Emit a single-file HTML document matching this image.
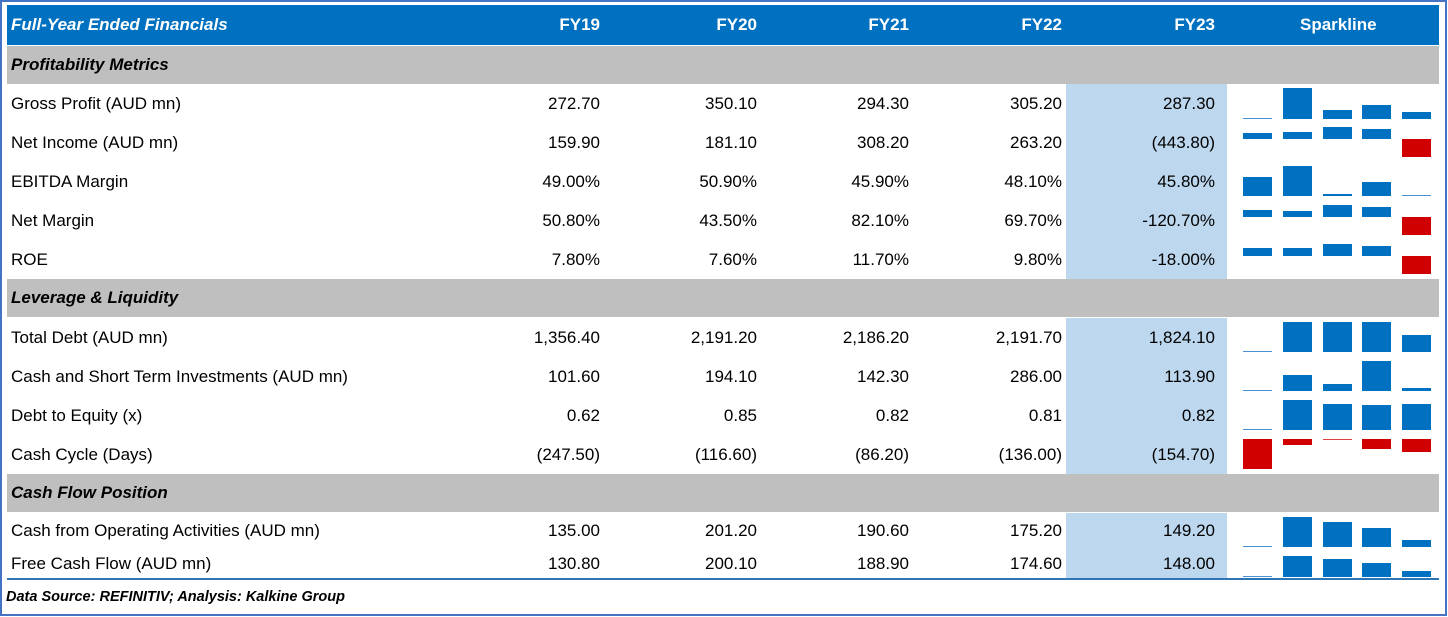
<!DOCTYPE html>
<html><head><meta charset="utf-8">
<style>
body{margin:0;width:1448px;height:617px;background:#fff;position:relative;overflow:hidden;font-family:"Liberation Sans",Arial,sans-serif;}
#frame{position:absolute;left:0;top:0;width:1443px;height:612px;border:2px solid #4472C4;}
.row{position:absolute;left:7px;width:1432px;}
.hdr{background:#0070C0;color:#fff;font-weight:bold;}
.sec{background:#BFBFBF;color:#000;font-weight:bold;font-style:italic;}
.cell{position:absolute;top:0;height:100%;display:flex;align-items:center;font-size:17px;white-space:nowrap;}
.lab{left:4px;}
.num{justify-content:flex-end;}
.it{font-style:italic;}
.hl{position:absolute;left:1066px;width:161px;background:#BDD7EE;}
.bar{position:absolute;}
#foot{position:absolute;left:6px;top:589px;font-size:14.5px;font-weight:bold;font-style:italic;color:#000;}
#bline{position:absolute;left:7px;top:578px;width:1432px;height:2px;background:#2E75B6;}
</style></head><body>
<div id="frame"></div>
<div id="tbl"></div>
<div id="bline"></div>
<div id="foot">Data Source: REFINITIV; Analysis: Kalkine Group</div>
<script>
const years = ["FY19","FY20","FY21","FY22","FY23"];
const labels = ["Gross Profit (AUD mn)","Net Income (AUD mn)","EBITDA Margin","Net Margin","ROE","Total Debt (AUD mn)","Cash and Short Term Investments (AUD mn)","Debt to Equity (x)","Cash Cycle (Days)","Cash from Operating Activities (AUD mn)","Free Cash Flow (AUD mn)"];
const grossProfit = [272.7,350.1,294.3,305.2,287.3];
const netIncome = [159.9,181.1,308.2,263.2,-443.8];
const ebitdaMargin = [49.0,50.9,45.9,48.1,45.8];
const netMargin = [50.8,43.5,82.1,69.7,-120.7];
const roe = [7.8,7.6,11.7,9.8,-18.0];
const totalDebt = [1356.4,2191.2,2186.2,2191.7,1824.1];
const cashSTI = [101.6,194.1,142.3,286.0,113.9];
const debtEquity = [0.62,0.85,0.82,0.81,0.82];
const cashCycle = [-247.5,-116.6,-86.2,-136.0,-154.7];
const cfo = [135.0,201.2,190.6,175.2,149.2];
const fcf = [130.8,200.1,188.9,174.6,148.0];
const series = [grossProfit,netIncome,ebitdaMargin,netMargin,roe,totalDebt,cashSTI,debtEquity,cashCycle,cfo,fcf];
const formats = ["paren","paren","pct","pct","pct","paren","paren","dec","paren","paren","paren"];
const sections = ["Profitability Metrics","Leverage & Liquidity","Cash Flow Position"];

const colRight=[600,757,909,1062,1215];
function fmt(v,f){
  if(f==="pct") return v.toFixed(2)+"%";
  if(f==="dec") return v.toFixed(2);
  const s=Math.abs(v).toLocaleString('en-US',{minimumFractionDigits:2,maximumFractionDigits:2});
  return v<0?"("+s+")":s;
}
function mkRow(top,h,cls,name){
  const r=document.createElement('div');
  r.className='row '+cls;
  r.style.top=top+'px';r.style.height=h+'px';
  
  
  document.body.appendChild(r);return r;
}
function cell(row,text,left,right,cls,name){
  const c=document.createElement('div');
  c.className='cell '+cls;
  if(left!==null)c.style.left=left+'px';
  if(right!==null){c.style.right=(1432-right)+'px';}
  c.textContent=text;
  
  
  row.appendChild(c);return c;
}
const hr=mkRow(5,40,'hdr','header-row');
cell(hr,"Full-Year Ended Financials",4,null,'it','header-title');
years.forEach((y,i)=>{cell(hr,y,null,colRight[i]-7,'num','header-'+y.toLowerCase());});
cell(hr,"Sparkline",1293,null,'','header-sparkline');
[[84,195],[318,156],[513,65]].forEach(p=>{
  const h=document.createElement('div');h.className='hl';h.style.top=p[0]+'px';h.style.height=p[1]+'px';
  
  document.body.appendChild(h);
});
const secTops=[46,279,474];
sections.forEach((s,i)=>{const r=mkRow(secTops[i],38,'sec','section-'+(i+1));cell(r,s,4,null,'','section-title');});
const rowTops=[84,123,162,201,240,318,357,396,435,513,548];
const rowHs=[39,39,39,39,39,39,39,39,39,35,31];
const sparkH=[31,30,30,30,30,30,30,30,30,30,21];
const sparkTopPad=[4,4,4,4,4,4,4,4,4,4,8];
const barX=[1243,1283,1323,1362,1402];
labels.forEach((lab,i)=>{
  const r=mkRow(rowTops[i],rowHs[i],'','data-row');
  cell(r,lab,4,null,'lab','row-label');
  series[i].forEach((v,j)=>{cell(r,fmt(v,formats[i]),null,colRight[j]-7,'num','value-'+years[j].toLowerCase());});
  const vals=series[i];
  const mx=Math.max(...vals),mn=Math.min(...vals);
  const H=sparkH[i]-1, top=rowTops[i]+sparkTopPad[i];
  vals.forEach((v,j)=>{
    const b=document.createElement('div');b.className='bar';
    let y,h;
    if(mn>=0){h=1+(v-mn)/(mx-mn)*H;y=top+H+1-h;}
    else if(mx<=0){h=1+(mx-v)/(mx-mn)*H;y=top;}
    else{const z=top+mx/(mx-mn)*(H+1);const hh=Math.abs(v)/(mx-mn)*(H+1);
      if(v>=0){y=z-hh;h=hh;}else{y=z;h=hh;}}
    b.style.left=barX[j]+'px';b.style.width='29px';
    b.style.top=y+'px';b.style.height=Math.max(h,1)+'px';
    b.style.background=v<0?'#D00000':'#0070C0';
    if(h<=1.5)b.style.background=v<0?'#E04040':'#4A90D0';
    
    
    document.body.appendChild(b);
  });
});
</script>
</body></html>
